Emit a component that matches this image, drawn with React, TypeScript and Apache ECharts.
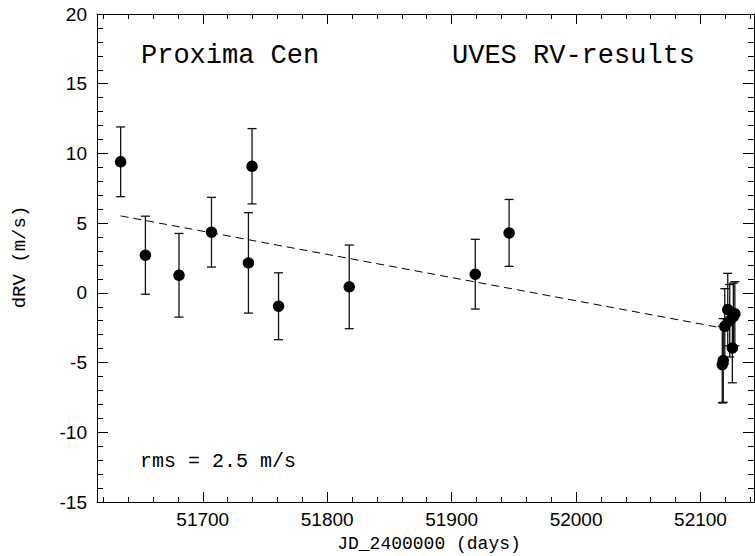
import React, { useEffect, useRef } from "react";
import * as echarts from "echarts";

// Observation epochs (JD - 2400000), radial velocity residuals (m/s) and 1-sigma errors
const jdDays = [
  51634.0, 51653.9, 51680.9, 51707.0, 51736.7, 51739.6, 51760.9, 51817.7, 51919.0, 51946.2,
  52117.5, 52118.3, 52119.5, 52121.9, 52123.5, 52125.6, 52126.4, 52127.6,
];
const dRV = [
  9.4, 2.7, 1.26, 4.35, 2.15, 9.08, -0.96, 0.43, 1.34, 4.3,
  -5.15, -4.85, -2.4, -1.2, -2.0, -3.95, -1.7, -1.5,
];
const rvErr = [
  2.5, 2.8, 3.0, 2.5, 3.6, 2.7, 2.4, 3.0, 2.5, 2.4,
  2.75, 3.0, 2.7, 2.6, 2.6, 2.5, 2.4, 2.3,
];

// Linear trend (dashed)
const trendJD = [51634.0, 52117.5];
const trendRV = [5.52, -2.52];

// Axes
const xMin = 51615;
const xMax = 52143;
const yMin = -15;
const yMax = 20;
const yInterval = 5;
const xMajorTicks = [51700, 51800, 51900, 52000, 52100];
const xMinorTicks = [
  51620, 51640, 51660, 51680, 51720, 51740, 51760, 51780, 51820, 51840, 51860, 51880,
  51920, 51940, 51960, 51980, 52020, 52040, 52060, 52080, 52120, 52140,
];

const titleLeft = "Proxima Cen";
const titleRight = "UVES RV-results";
const rmsText = "rms = 2.5 m/s";
const xName = "JD_2400000 (days)";
const yName = "dRV (m/s)";

const MONO = '"Liberation Mono", "DejaVu Sans Mono", monospace';
const SANS = '"Liberation Sans", Arial, sans-serif';
const INK = "#000";

const GRID = { left: 97, right: 1, top: 14, bottom: 54 };

export default function App() {
  const ref = useRef<HTMLDivElement>(null);

  useEffect(() => {
    if (!ref.current) return;
    const chart = echarts.init(ref.current, null, { renderer: "svg" });

    const points = jdDays.map((x, i) => [x, dRV[i]]);
    const errData = jdDays.map((x, i) => [x, dRV[i], rvErr[i]]);
    const trend = trendJD.map((x, i) => [x, trendRV[i]]);

    const axisLine = { show: true, onZero: false, lineStyle: { color: INK, width: 1 } };
    const noLine = { show: false, onZero: false };

    const xAx = (grid: number, pos: string, ticks: number[], len: number, line: any, labels: boolean) => ({
      gridIndex: grid,
      type: "value",
      position: pos,
      min: xMin,
      max: xMax,
      axisLine: line,
      axisTick: {
        show: true,
        inside: true,
        length: len,
        customValues: ticks,
        lineStyle: { color: INK, width: 1 },
      },
      axisLabel: labels
        ? {
            show: true,
            customValues: ticks,
            color: INK,
            fontFamily: SANS,
            fontSize: 19,
            margin: 8,
            formatter: (v: number) => String(v),
          }
        : { show: false },
      splitLine: { show: false },
    });

    const yAx = (pos: string, labels: boolean) => ({
      gridIndex: 0,
      type: "value",
      position: pos,
      min: yMin,
      max: yMax,
      interval: yInterval,
      axisLine,
      axisTick: { show: true, inside: true, length: 11, lineStyle: { color: INK, width: 1 } },
      minorTick: { show: true, splitNumber: 5, length: 6, lineStyle: { color: INK, width: 1 } },
      axisLabel: labels
        ? { show: true, color: INK, fontFamily: SANS, fontSize: 19, margin: 10 }
        : { show: false },
      splitLine: { show: false },
      minorSplitLine: { show: false },
    });

    const label = (text: string, x: number, y: number, size: number, align: string, rot = 0) => ({
      type: "text",
      x,
      y,
      rotation: rot,
      style: {
        text,
        fill: INK,
        font: `${size}px ${MONO}`,
        textAlign: align,
        textVerticalAlign: "middle",
      },
    });

    const option: any = {
      animation: false,
      backgroundColor: "#fff",
      grid: [
        { ...GRID, containLabel: false },
        { ...GRID, containLabel: false },
      ],
      xAxis: [
        xAx(0, "bottom", xMajorTicks, 10, axisLine, true),
        xAx(0, "top", xMajorTicks, 10, axisLine, false),
        xAx(1, "bottom", xMinorTicks, 5, noLine, false),
        xAx(1, "top", xMinorTicks, 5, noLine, false),
      ],
      yAxis: [
        yAx("left", true),
        yAx("right", false),
        { gridIndex: 1, type: "value", min: yMin, max: yMax, show: false },
      ],
      graphic: [
        label(titleLeft, 141, 56, 27, "left"),
        label(titleRight, 452, 56, 27, "left"),
        label(rmsText, 140, 461, 20, "left"),
        label(xName, 429, 544, 18, "center"),
        label(yName, 20, 257, 19, "center", Math.PI / 2),
      ],
      series: [
        {
          type: "line",
          xAxisIndex: 0,
          yAxisIndex: 0,
          data: trend,
          symbol: "none",
          lineStyle: { color: INK, width: 1, type: [8, 5] },
          z: 2,
        },
        {
          type: "custom",
          xAxisIndex: 0,
          yAxisIndex: 0,
          data: errData,
          encode: { x: 0, y: 1 },
          clip: false,
          z: 3,
          renderItem: (params: any, api: any) => {
            const x = api.value(0);
            const y = api.value(1);
            const e = api.value(2);
            const top = api.coord([x, y + e]);
            const bot = api.coord([x, y - e]);
            const hw = 4.5;
            const style = { stroke: "#111", lineWidth: 1.3 };
            return {
              type: "group",
              children: [
                { type: "line", shape: { x1: top[0], y1: top[1], x2: bot[0], y2: bot[1] }, style },
                { type: "line", shape: { x1: top[0] - hw, y1: top[1], x2: top[0] + hw, y2: top[1] }, style },
                { type: "line", shape: { x1: bot[0] - hw, y1: bot[1], x2: bot[0] + hw, y2: bot[1] }, style },
              ],
            };
          },
        },
        {
          type: "scatter",
          xAxisIndex: 0,
          yAxisIndex: 0,
          data: points,
          symbol: "circle",
          symbolSize: 11.5,
          itemStyle: { color: INK, opacity: 1 },
          z: 4,
        },
      ],
    };

    chart.setOption(option);
    return () => chart.dispose();
  }, []);

  return (
    <div
      ref={ref}
      style={{ position: "fixed", left: 0, top: 0, width: 755, height: 556, background: "#fff" }}
    />
  );
}
